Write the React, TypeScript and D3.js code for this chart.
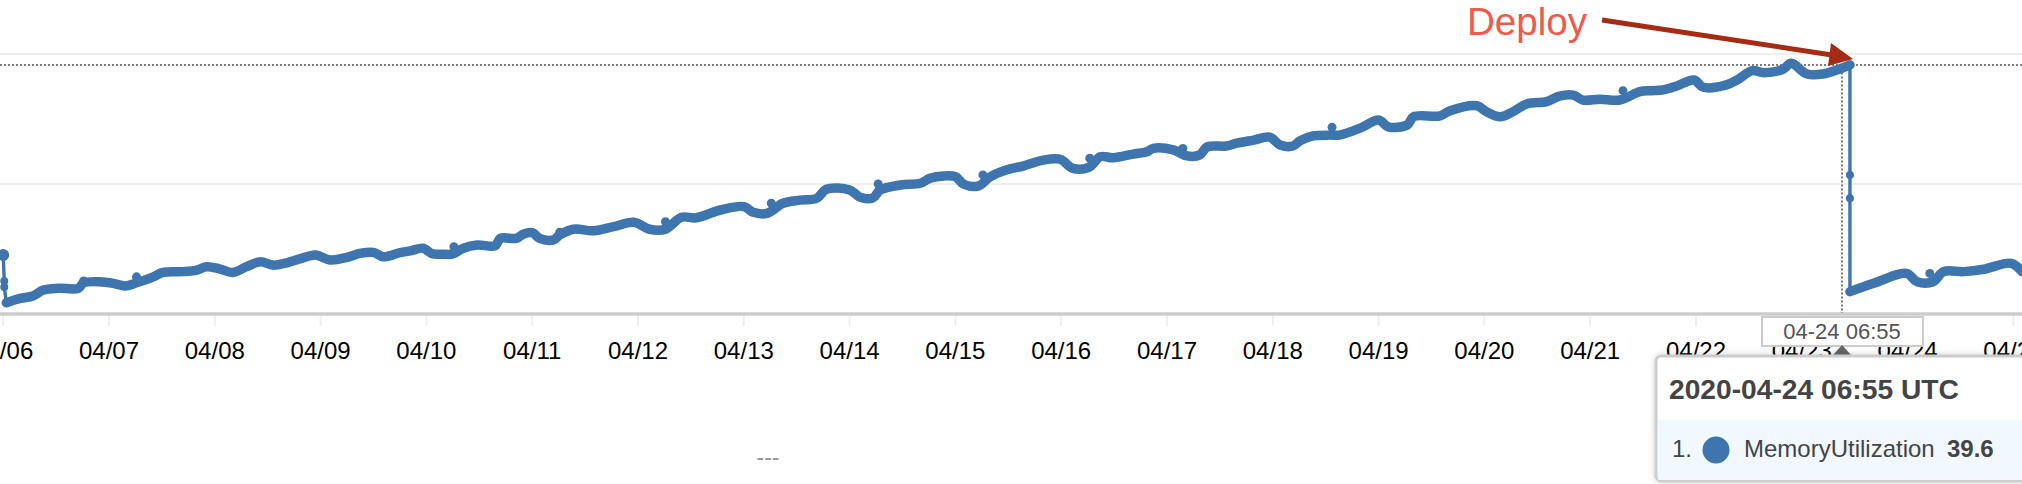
import React from "react";
import * as d3 from "d3";

const WIDTH = 2022;
const HEIGHT = 484;
const LINE_COLOR = "#3e75af";

// Day of April 2020 (fractional) and MemoryUtilization value
const firstRunDays = [6.03,6.16,6.28,6.38,6.52,6.71,6.76,6.91,7.04,7.15,7.26,7.42,7.51,7.70,7.83,7.92,8.05,8.17,8.30,8.43,8.55,8.68,8.81,8.95,9.09,9.25,9.37,9.50,9.59,9.75,9.85,9.97,10.05,10.16,10.25,10.35,10.48,10.65,10.70,10.85,10.92,11.00,11.07,11.20,11.26,11.39,11.58,11.77,11.96,12.11,12.26,12.41,12.55,12.78,13.00,13.09,13.22,13.37,13.53,13.69,13.78,14.00,14.10,14.22,14.29,14.48,14.67,14.76,14.89,15.00,15.08,15.22,15.33,15.48,15.64,15.83,15.99,16.11,16.26,16.37,16.49,16.68,16.81,16.87,17.06,17.19,17.31,17.38,17.56,17.66,17.82,17.97,18.07,18.19,18.26,18.38,18.54,18.63,18.82,19.00,19.09,19.27,19.33,19.58,19.67,19.93,20.02,20.15,20.27,20.40,20.59,20.71,20.84,20.93,21.09,21.28,21.47,21.57,21.69,21.82,21.98,22.07,22.26,22.39,22.53,22.64,22.82,22.90,23.05,23.20,23.33,23.455];
const firstRunValues = [30.43,30.60,30.69,30.92,30.99,30.99,31.20,31.24,31.18,31.08,31.20,31.43,31.60,31.63,31.69,31.82,31.73,31.60,31.82,32.01,31.88,31.97,32.13,32.27,32.08,32.18,32.33,32.37,32.20,32.36,32.43,32.53,32.33,32.30,32.31,32.53,32.65,32.63,32.91,32.91,33.08,33.13,32.91,32.85,33.04,33.26,33.20,33.36,33.53,33.26,33.26,33.72,33.70,34.00,34.13,33.91,33.87,34.26,34.38,34.45,34.80,34.77,34.49,34.47,34.77,34.96,35.03,35.22,35.31,35.28,34.99,34.93,35.28,35.54,35.69,35.92,35.95,35.60,35.64,36.05,36.01,36.15,36.24,36.37,36.31,36.08,36.12,36.43,36.46,36.57,36.69,36.80,36.50,36.46,36.67,36.85,36.88,36.88,37.14,37.46,37.20,37.27,37.59,37.62,37.81,38.01,37.78,37.59,37.78,38.08,38.17,38.38,38.42,38.23,38.26,38.23,38.55,38.59,38.62,38.77,39.00,38.72,38.78,39.00,39.36,39.28,39.41,39.64,39.23,39.23,39.38,39.58];

const secondRunDays = [23.455,23.68,23.99,24.09,24.24,24.34,24.53,24.72,24.98,25.08];
const secondRunValues = [30.86,31.18,31.56,31.24,31.24,31.63,31.63,31.72,31.95,31.63];

// Restart transitions, drawn with the thin line and separate dots
const firstDropDays = [6.00,6.01,6.01,6.03];
const firstDropValues = [32.27,31.27,31.04,30.43];
const deployDropDays = [23.455,23.455,23.455,23.455];
const deployDropValues = [39.6,35.35,34.45,30.86];

// Isolated sample dots that stick out of the thick line
const spikeDays = [6.76,7.26,10.26,11.26,12.26,13.26,14.27,15.26,16.27,17.15,18.56,21.31,24.21];
const spikeValues = [31.27,31.43,32.59,33.14,33.55,34.26,35.00,35.35,35.99,36.37,37.18,38.59,31.56];

const tickDays = d3.range(6, 26);
const gridValues = [35, 40];
const hoverDay = 23.38;
const hoverValue = 39.6;

const hoverLabel = "04-24 06:55";
const tooltipTitle = "2020-04-24 06:55 UTC";
const seriesName = "MemoryUtilization";
const annotation = "Deploy";

const x = d3.scaleLinear().domain([7, 25]).range([109, 109 + 18 * 105.8]);
const y = d3.scaleLinear().domain([30, 40]).range([314, 54]);

type Pt = [number, number];
const zip = (a: number[], b: number[]): Pt[] => a.map((d, i) => [d, b[i]]);
const line = d3.line<Pt>().x((d) => x(d[0])).y((d) => y(d[1]));
const smooth = d3.line<Pt>().x((d) => x(d[0])).y((d) => y(d[1])).curve(d3.curveCatmullRom.alpha(0.5));
const tickLabel = (d: number) => `04/${d3.format("02d")(d)}`;

const FONT = "'Liberation Sans', Arial, sans-serif";

export default function App() {
  const first = zip(firstRunDays, firstRunValues);
  const second = zip(secondRunDays, secondRunValues);
  const drop1 = zip(firstDropDays, firstDropValues);
  const drop2 = zip(deployDropDays, deployDropValues);
  const spikes = zip(spikeDays, spikeValues);
  const hx = x(hoverDay);
  const hy = y(hoverValue);

  return (
    <svg
      width={WIDTH}
      height={HEIGHT}
      viewBox={`0 0 ${WIDTH} ${HEIGHT}`}
      style={{ position: "absolute", left: 0, top: 0, background: "#fff", fontFamily: FONT }}
    >
      <defs>
        <filter id="tipShadow" x="-5%" y="-10%" width="110%" height="120%">
          <feDropShadow dx="0" dy="0" stdDeviation="3" floodColor="#000" floodOpacity="0.18" />
        </filter>
      </defs>

      {gridValues.map((v) => (
        <line key={v} x1={0} x2={WIDTH} y1={y(v)} y2={y(v)} stroke="#eeeeee" strokeWidth={2} />
      ))}

      {tickDays.map((d) => (
        <line key={d} x1={x(d)} x2={x(d)} y1={314} y2={326} stroke="#eeeeee" strokeWidth={2} />
      ))}
      <line x1={0} x2={WIDTH} y1={314} y2={314} stroke="#cccccc" strokeWidth={3.5} />

      {tickDays.map((d) => (
        <text key={d} x={x(d)} y={359} textAnchor="middle" fontSize={24} fill="#000">
          {tickLabel(d)}
        </text>
      ))}

      <text x={768} y={465} textAnchor="middle" fontSize={23} fill="#999">---</text>

      <line x1={0} x2={WIDTH} y1={hy + 0.5} y2={hy + 0.5} stroke="#555" strokeWidth={1.5} strokeDasharray="2 2" />
      <line x1={hx} x2={hx} y1={hy} y2={313} stroke="#555" strokeWidth={1.5} strokeDasharray="2 2" />

      <path d={line(drop1) ?? ""} fill="none" stroke={LINE_COLOR} strokeWidth={3.4} />
      <path d={line(drop2) ?? ""} fill="none" stroke={LINE_COLOR} strokeWidth={3.4} />
      <path d={smooth(first) ?? ""} fill="none" stroke={LINE_COLOR} strokeWidth={9.5} strokeLinejoin="round" strokeLinecap="round" />
      <path d={smooth(second) ?? ""} fill="none" stroke={LINE_COLOR} strokeWidth={9.5} strokeLinejoin="round" strokeLinecap="round" />
      {drop1.map((d, i) => (
        <circle key={i} cx={x(d[0])} cy={y(d[1])} r={i === 0 ? 6 : 4} fill={LINE_COLOR} />
      ))}
      {drop2.map((d, i) => (
        <circle key={i} cx={x(d[0])} cy={y(d[1])} r={4} fill={LINE_COLOR} />
      ))}
      {spikes.map((d, i) => (
        <circle key={i} cx={x(d[0])} cy={y(d[1])} r={4.5} fill={LINE_COLOR} />
      ))}

      <text x={1467} y={35} fontSize={38.6} fill="#ef5a4a">{annotation}</text>
      <line x1={1602} y1={20} x2={1832} y2={55} stroke="#a52b14" strokeWidth={5} />
      <polygon points="1853,59 1831,43 1828,66" fill="#a52b14" />

      <rect x={1762} y={317} width={161} height={29} fill="#fff" stroke="#cccccc" strokeWidth={2} />
      <text x={hx} y={339} textAnchor="middle" fontSize={22} fill="#555">{hoverLabel}</text>
      <polygon points={`${hx},345 ${hx + 10},356 ${hx - 10},356`} fill="#666" />

      <rect x={1656} y={356} width={420} height={125} rx={5} fill="#fff" stroke="#cccccc" strokeWidth={3} filter="url(#tipShadow)" />
      <rect x={1658} y={420} width={364} height={60} fill="#f1f8fe" />
      <text x={1669} y={399} fontSize={28.2} fontWeight={700} fill="#444">{tooltipTitle}</text>
      <text x={1672} y={457} fontSize={24} fill="#444">1.</text>
      <circle cx={1716} cy={450} r={13.5} fill={LINE_COLOR} />
      <text x={1744} y={457} fontSize={24} fill="#444">{seriesName}</text>
      <text x={1947} y={457} fontSize={24} fontWeight={700} fill="#444">{hoverValue}</text>
    </svg>
  );
}
